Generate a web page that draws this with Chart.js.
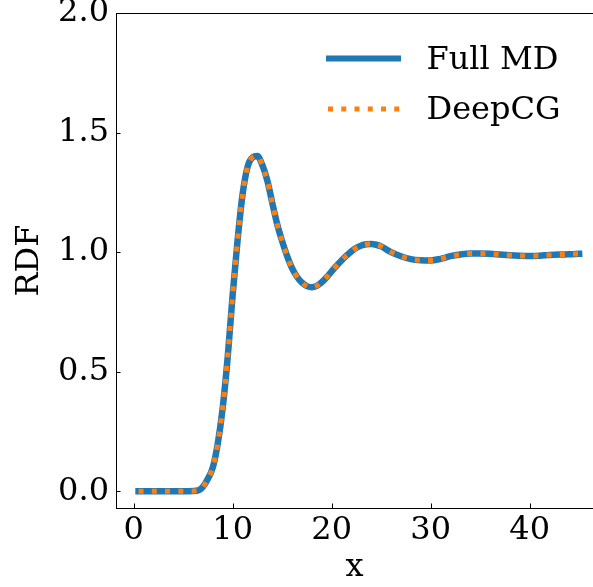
<!DOCTYPE html>
<html>
<head>
<meta charset="utf-8">
<script src="https://cdn.jsdelivr.net/npm/chart.js@4.4.1/dist/chart.umd.min.js"></script>
<style>
html,body{margin:0;padding:0;background:#fff;overflow:hidden;}
canvas{display:block;}
</style>
</head>
<body>
<canvas id="c" width="593" height="587"></canvas>
<script>
const xs = [0.5, 2, 4, 5.5, 6.5, 7, 7.5, 8, 8.5, 9, 9.5, 10, 10.5, 11, 11.5, 12, 12.5, 13, 13.5, 14, 14.5, 15, 15.5, 16, 16.5, 17, 17.5, 18, 18.5, 19, 19.5, 20, 20.5, 21, 21.5, 22, 22.5, 23, 23.5, 24, 24.5, 25, 26, 27, 28, 29, 30, 31, 32, 33, 34, 35, 36, 37, 38, 39, 40, 41, 42, 43, 44, 45];
const fullMD = [0, 0, 0, 0, 0.003, 0.018, 0.052, 0.1, 0.2, 0.35, 0.56, 0.82, 1.05, 1.24, 1.355, 1.396, 1.402, 1.364, 1.3, 1.207, 1.117, 1.046, 0.984, 0.933, 0.897, 0.872, 0.858, 0.853, 0.859, 0.874, 0.895, 0.92, 0.943, 0.965, 0.985, 1.003, 1.018, 1.028, 1.033, 1.034, 1.031, 1.024, 1.0, 0.983, 0.971, 0.966, 0.965, 0.972, 0.983, 0.99, 0.994, 0.994, 0.993, 0.99, 0.987, 0.985, 0.984, 0.985, 0.988, 0.99, 0.991, 0.993];
const deepCG = [0, 0, 0, 0, 0.003, 0.018, 0.052, 0.1, 0.2, 0.35, 0.56, 0.82, 1.05, 1.24, 1.355, 1.396, 1.402, 1.364, 1.3, 1.207, 1.117, 1.046, 0.984, 0.933, 0.897, 0.872, 0.858, 0.853, 0.859, 0.874, 0.895, 0.92, 0.943, 0.965, 0.985, 1.003, 1.018, 1.028, 1.033, 1.034, 1.031, 1.024, 1.0, 0.983, 0.971, 0.966, 0.965, 0.972, 0.983, 0.99, 0.994, 0.994, 0.993, 0.99, 0.987, 0.985, 0.984, 0.985, 0.988, 0.99, 0.991, 0.993];
const xTicks = [0, 10, 20, 30, 40];
const yTicks = [0.0, 0.5, 1.0, 1.5, 2.0];
const seriesNames = ['Full MD', 'DeepCG'];

const FONT = 'DejaVu Serif';
const FS = 32;
const BLUE = '#1f77b4', ORANGE = '#ff7f0e';

const framePlugin = {
  id: 'frame',
  afterDraw(chart) {
    const ctx = chart.ctx, a = chart.chartArea;
    const xs_ = chart.scales.x, ys_ = chart.scales.y;
    ctx.save();
    ctx.strokeStyle = '#000';
    ctx.lineWidth = 1;
    ctx.beginPath();
    ctx.moveTo(a.left, a.top + 0.5);
    ctx.lineTo(a.right, a.top + 0.5);
    ctx.stroke();
    xTicks.forEach(v => {
      const p = Math.round(xs_.getPixelForValue(v)) + 0.5;
      ctx.beginPath(); ctx.moveTo(p, a.bottom); ctx.lineTo(p, a.bottom - 4.5); ctx.stroke();
    });
    yTicks.forEach(v => {
      const p = Math.round(ys_.getPixelForValue(v)) + 0.5;
      ctx.beginPath(); ctx.moveTo(a.left, p); ctx.lineTo(a.left + 4.5, p); ctx.stroke();
    });
    ctx.font = FS + 'px "' + FONT + '"';
    ctx.textBaseline = 'alphabetic';
    ctx.fillStyle = '#000';
    const rows = [{y: 58.5, c: BLUE, w: 6, dash: [], x0: 326, base: 69.3},
                  {y: 109, c: ORANGE, w: 5, dash: [5, 8.25], x0: 328, base: 119.3}];
    rows.forEach((r, i) => {
      ctx.save();
      ctx.strokeStyle = r.c; ctx.lineWidth = r.w; ctx.setLineDash(r.dash);
      ctx.lineCap = 'butt';
      ctx.beginPath();
      ctx.moveTo(r.x0, r.y); ctx.lineTo(401, r.y);
      ctx.stroke();
      ctx.restore();
      ctx.fillText(seriesNames[i], 426.5, r.base);
    });
    ctx.restore();
  }
};

new Chart(document.getElementById('c'), {
  type: 'line',
  data: {
    datasets: [
      {
        label: seriesNames[1],
        data: xs.map((x, i) => ({x: x, y: deepCG[i]})),
        borderColor: ORANGE, borderWidth: 5, pointRadius: 0, borderDash: [5, 8.25],
        cubicInterpolationMode: 'monotone', borderCapStyle: 'butt', fill: false
      },
      {
        label: seriesNames[0],
        data: xs.map((x, i) => ({x: x, y: fullMD[i]})),
        borderColor: BLUE, borderWidth: 6.5, pointRadius: 0,
        cubicInterpolationMode: 'monotone', borderCapStyle: 'square', fill: false
      }
    ]
  },
  options: {
    responsive: false,
    animation: false,
    devicePixelRatio: 1,
    layout: {padding: {top: 13, right: 0, left: 0, bottom: 0}},
    plugins: {legend: {display: false}, tooltip: {enabled: false}},
    scales: {
      x: {
        type: 'linear', min: -1.78, max: 46.4,
        afterBuildTicks: s => { s.ticks = xTicks.map(v => ({value: v})); },
        afterFit: s => { s.height = 79; s.paddingLeft = 0; s.paddingRight = 0; },
        grid: {display: true, drawOnChartArea: false, drawTicks: false},
        border: {display: true, color: '#000', width: 1},
        ticks: {font: {family: FONT, size: FS}, color: '#000', padding: 3, maxRotation: 0, callback: v => String(v)},
        title: {display: true, text: 'x', font: {family: FONT, size: FS}, color: '#000', padding: {top: 0, bottom: 0}}
      },
      y: {
        type: 'linear', min: -0.07, max: 2.0,
        afterBuildTicks: s => { s.ticks = yTicks.map(v => ({value: v})); },
        afterFit: s => { s.width = 116; s.paddingTop = 0; s.paddingBottom = 0; },
        grid: {display: true, drawOnChartArea: false, drawTicks: false},
        border: {display: true, color: '#000', width: 1},
        ticks: {font: {family: FONT, size: FS}, color: '#000', padding: 7, callback: v => v.toFixed(1)},
        title: {display: true, text: 'RDF', font: {family: FONT, size: FS}, color: '#000', padding: {top: 10, bottom: 0}}
      }
    }
  },
  plugins: [framePlugin]
});
</script>
</body>
</html>
